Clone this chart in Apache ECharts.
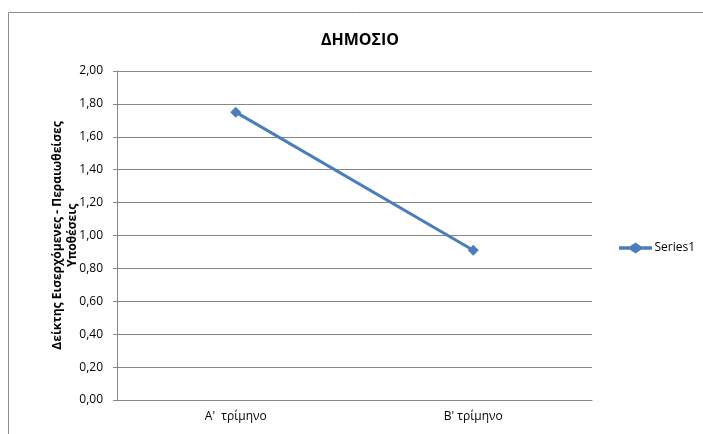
<!DOCTYPE html>
<html>
<head>
<meta charset="utf-8">
<script src="https://cdn.jsdelivr.net/npm/echarts@6/dist/echarts.min.js"></script>
<style>
  html, body { margin: 0; padding: 0; background: #fff; }
  #chart { width: 703px; height: 434px; }
</style>
</head>
<body>
<div id="chart"></div>
<script>
  // data
  var categories = ["A'  τρίμηνο", "B' τρίμηνο"]
  var series1 = [1.75, 0.91]
  var seriesName = 'Series1'

  var myChart = echarts.init(document.getElementById('chart'))
  var font = '"Open Sans", "DejaVu Sans", sans-serif'

  var option = {
    animation: false,
    backgroundColor: '#fff',
    textStyle: { fontFamily: font },
    title: {
      text: 'ΔΗΜΟΣΙΟ',
      left: 355,
      top: 27,
      textAlign: 'center',
      textStyle: { fontSize: 16, fontWeight: 'bold', color: '#000', fontFamily: font }
    },
    graphic: [{
      type: 'rect',
      shape: { x: 8.5, y: 12.5, width: 720, height: 440 },
      style: { fill: 'none', stroke: '#8c8c8c', lineWidth: 1 },
      silent: true
    }],
    legend: {
      left: 614,
      top: 237,
      orient: 'vertical',
      icon: 'path://M0,3.5 L10,3.5 L15,0 L20,3.5 L30,3.5 L30,6.5 L20,6.5 L15,10 L10,6.5 L0,6.5 Z',
      itemWidth: 36,
      itemHeight: 11,
      itemGap: 0,
      textStyle: { fontSize: 12, color: '#000', padding: [0, 0, 0, -4] },
      data: [seriesName]
    },
    grid: {
      left: 117,
      top: 71,
      right: 111,
      bottom: 34,
      containLabel: false
    },
    xAxis: {
      type: 'category',
      data: categories,
      boundaryGap: true,
      axisLine: { lineStyle: { color: '#868686', width: 1 } },
      axisTick: { show: false },
      axisLabel: { fontSize: 12, color: '#000', margin: 11 }
    },
    yAxis: {
      type: 'value',
      min: 0,
      max: 2,
      interval: 0.2,
      name: 'Δείκτης Εισερχόμενες - Περαιωθείσες\nΥποθέσεις',
      nameLocation: 'middle',
      nameRotate: 90,
      nameGap: 37,
      nameMoveOverlap: false,
      nameTextStyle: { fontSize: 12, fontWeight: 'bold', color: '#000', lineHeight: 15, align: 'center' },
      axisLine: { show: true, lineStyle: { color: '#868686', width: 1 } },
      axisTick: { show: true, length: 4, lineStyle: { color: '#868686' } },
      axisLabel: {
        fontSize: 12,
        color: '#000',
        margin: 14,
        formatter: function (value) {
          return value.toFixed(2).replace('.', ',')
        }
      },
      splitLine: { show: true, lineStyle: { color: '#868686', width: 1 } }
    },
    series: [{
      name: seriesName,
      type: 'line',
      data: series1,
      symbol: 'diamond',
      symbolSize: 11,
      lineStyle: { color: '#4a7ebb', width: 3 },
      itemStyle: { color: '#4a7ebb' }
    }]
  }

  myChart.setOption(option)
</script>
</body>
</html>
